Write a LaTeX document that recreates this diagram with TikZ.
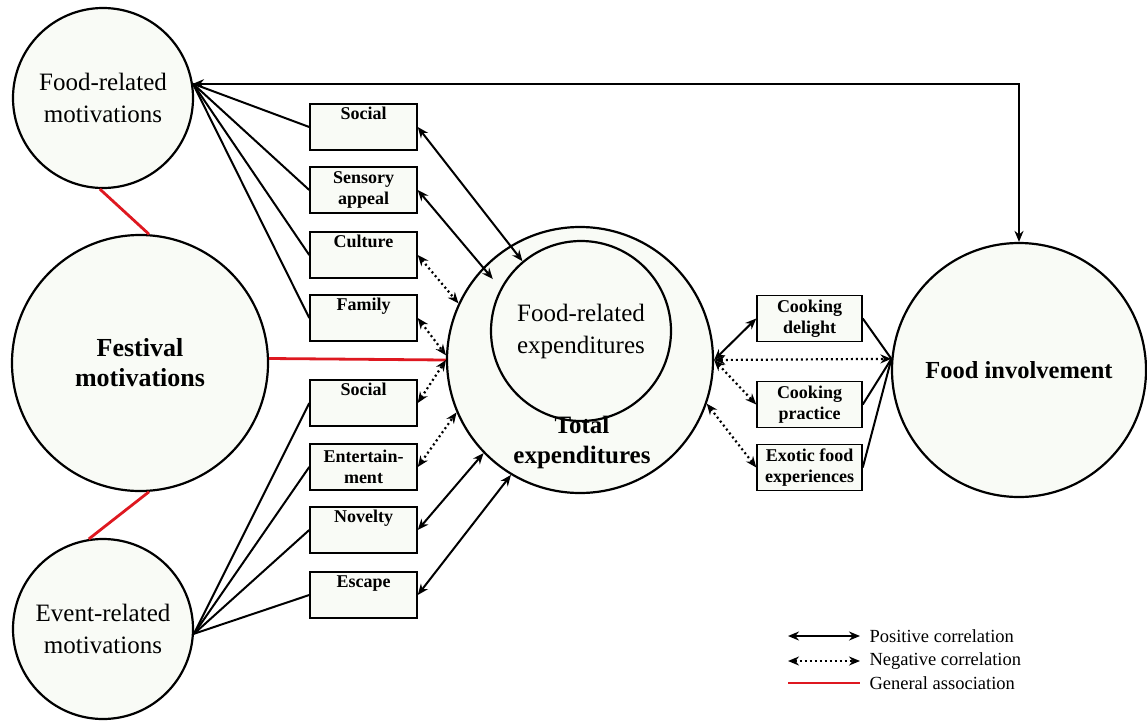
\documentclass[tikz,border=0pt]{standalone}
\usepackage{fontspec}
\setmainfont{Liberation Serif}
\usetikzlibrary{arrows.meta}
\definecolor{paper}{RGB}{249,251,246}
\definecolor{assoc}{RGB}{222,24,32}
\tikzset{
    every node/.style={align=center,},
    motive/.style={draw,circle,line width=2.2pt,fill=paper,inner sep=0pt,},
    factor/.style={draw,rectangle,line width=1.5pt,fill=paper,minimum width=107pt,minimum height=46pt,inner sep=1pt,font=\fontsize{18}{20.5}\selectfont\bfseries,},
    link/.style={line width=2pt,},
    poscor/.style={line width=2pt,{Stealth[length=11pt,width=9pt]}-{Stealth[length=11pt,width=9pt]},},
    negcor/.style={line width=2.2pt,dash pattern=on 2pt off 3pt,{Stealth[length=11pt,width=9pt]}-{Stealth[length=11pt,width=9pt]},},
    genassoc/.style={line width=2.8pt,draw=assoc,},
}

\begin{document}
\begin{tikzpicture}[x=1pt,y=-1pt]
    \useasboundingbox (0,0) rectangle (1147,720);

    % motivations
    \node[motive,minimum size=180pt,font=\fontsize{25}{32}\selectfont] (foodmot) at (103,98) {Food-related\\motivations};
    \node[motive,minimum size=256pt,font=\fontsize{26}{30}\selectfont\bfseries] (festmot) at (140,363) {Festival\\motivations};
    \node[motive,minimum size=180pt,font=\fontsize{25}{32}\selectfont] (eventmot) at (103,629) {Event-related\\motivations};

    % expenditures
    \node[motive,minimum size=266pt] (totalexp) at (580,360) {};
    \node[font=\fontsize{25}{30}\selectfont\bfseries] (totallabel) at (582,442) {Total\\expenditures};
    \node[draw,circle,line width=2.2pt,minimum size=180pt,inner sep=0pt,font=\fontsize{25}{32}\selectfont] (foodexp) at (581,331) {Food-related\\expenditures};

    \node[motive,minimum size=254pt,font=\fontsize{24.5}{30}\selectfont\bfseries] (foodinv) at (1019,370) {Food involvement};

    % factors
    \node[factor] (social) at (363.5,127) {Social\\\strut};
    \node[factor] (sensory) at (363.5,190) {Sensory\\appeal};
    \node[factor] (culture) at (363.5,255) {Culture\\\strut};
    \node[factor] (family) at (363.5,318) {Family\\\strut};
    \node[factor] (socialev) at (363.5,403) {Social\\\strut};
    \node[factor] (entertain) at (363.5,467) {Entertain-\\ment};
    \node[factor] (novelty) at (363.5,530) {Novelty\\\strut};
    \node[factor] (escape) at (363.5,595) {Escape\\\strut};

    \node[factor,minimum width=105pt] (delight) at (809.5,318.5) {Cooking\\delight};
    \node[factor,minimum width=105pt] (practice) at (809.5,404.5) {Cooking\\practice};
    \node[factor,minimum width=105pt] (exotic) at (809.5,467.5) {Exotic food\\experiences};

    % general associations
    \draw[genassoc] (foodmot.-92) -- (festmot.86);
    \draw[genassoc] (festmot.-86) -- (eventmot.99);
    \draw[genassoc] (festmot.2) -- (totalexp.west);

    % motivation links
    \draw[link] (foodmot.9) -- (social.west);
    \draw[link] (foodmot.9) -- (sensory.west);
    \draw[link] (foodmot.9) -- (culture.west);
    \draw[link] (foodmot.9) -- (family.west);
    \draw[link] (eventmot.-3) -- (socialev.west);
    \draw[link] (eventmot.-3) -- (entertain.west);
    \draw[link] (eventmot.-3) -- (novelty.west);
    \draw[link] (eventmot.-3) -- (escape.west);

    % correlations, left
    \draw[poscor] (social.east) -- (foodexp.130);
    \draw[poscor,shorten >=12pt] (sensory.east) -- (foodexp.152);
    \draw[negcor] (culture.east) -- (totalexp.155);
    \draw[negcor] (family.east) -- (totalexp.178);
    \draw[negcor] (socialev.east) -- (totalexp.west);
    \draw[negcor] (entertain.east) -- (totalexp.-157);
    \draw[poscor] (novelty.east) -- (totalexp.-136);
    \draw[poscor] (escape.east) -- (totalexp.-121);

    % correlations, right
    \draw[poscor] (totalexp.east) -- (delight.west);
    \draw[negcor] (totalexp.east) -- (practice.west);
    \draw[negcor] (totalexp.-19) -- (exotic.west);
    \draw[negcor] (totalexp.east) -- (foodinv.175);
    \draw[link] (delight.east) -- (foodinv.175);
    \draw[link] (practice.east) -- (foodinv.175);
    \draw[link] (exotic.east) -- (foodinv.175);

    \draw[poscor] (foodmot.9) -| (foodinv.north);

    % legend
    \coordinate (posa) at (788,636);
    \coordinate (posb) at (860,636);
    \coordinate (nega) at (788,661);
    \coordinate (negb) at (860,661);
    \coordinate (gena) at (788,683);
    \coordinate (genb) at (860,683);
    \draw[poscor] (posa) -- (posb);
    \draw[negcor] (nega) -- (negb);
    \draw[genassoc] (gena) -- (genb);
    \node[anchor=west,font=\fontsize{18.5}{20}\selectfont] (poslabel) at (866,636) {Positive correlation};
    \node[anchor=west,font=\fontsize{18.5}{20}\selectfont] (neglabel) at (866,661) {Negative correlation};
    \node[anchor=west,font=\fontsize{18.5}{20}\selectfont] (genlabel) at (866,683) {General association};
\end{tikzpicture}
\end{document}
